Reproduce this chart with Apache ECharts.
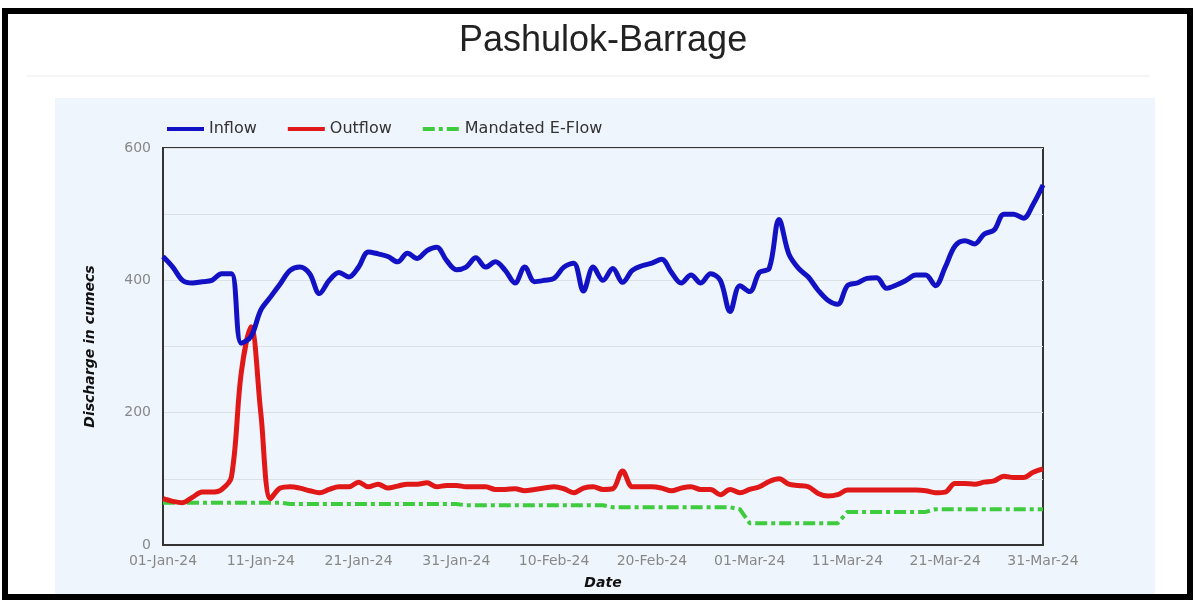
<!DOCTYPE html>
<html><head><meta charset="utf-8">
<script src="https://cdn.jsdelivr.net/npm/echarts@6/dist/echarts.min.js"></script>
<style>html,body{margin:0;padding:0;background:#fff}#c{width:1195px;height:601px}</style>
</head><body><div id="c"></div>
<script>
const dates = [
'01-Jan-24','02-Jan-24','03-Jan-24','04-Jan-24','05-Jan-24','06-Jan-24','07-Jan-24','08-Jan-24','09-Jan-24','10-Jan-24',
'11-Jan-24','12-Jan-24','13-Jan-24','14-Jan-24','15-Jan-24','16-Jan-24','17-Jan-24','18-Jan-24','19-Jan-24','20-Jan-24',
'21-Jan-24','22-Jan-24','23-Jan-24','24-Jan-24','25-Jan-24','26-Jan-24','27-Jan-24','28-Jan-24','29-Jan-24','30-Jan-24',
'31-Jan-24','01-Feb-24','02-Feb-24','03-Feb-24','04-Feb-24','05-Feb-24','06-Feb-24','07-Feb-24','08-Feb-24','09-Feb-24',
'10-Feb-24','11-Feb-24','12-Feb-24','13-Feb-24','14-Feb-24','15-Feb-24','16-Feb-24','17-Feb-24','18-Feb-24','19-Feb-24',
'20-Feb-24','21-Feb-24','22-Feb-24','23-Feb-24','24-Feb-24','25-Feb-24','26-Feb-24','27-Feb-24','28-Feb-24','29-Feb-24',
'01-Mar-24','02-Mar-24','03-Mar-24','04-Mar-24','05-Mar-24','06-Mar-24','07-Mar-24','08-Mar-24','09-Mar-24','10-Mar-24',
'11-Mar-24','12-Mar-24','13-Mar-24','14-Mar-24','15-Mar-24','16-Mar-24','17-Mar-24','18-Mar-24','19-Mar-24','20-Mar-24',
'21-Mar-24','22-Mar-24','23-Mar-24','24-Mar-24','25-Mar-24','26-Mar-24','27-Mar-24','28-Mar-24','29-Mar-24','30-Mar-24',
'31-Mar-24'];

const inflow = [
436,420,400,396,398,400,410,410,305,315,
355,375,395,415,420,410,380,400,412,405,
420,443,440,436,428,441,433,445,450,430,
416,420,434,420,428,415,396,420,398,400,
403,420,426,384,420,400,418,397,415,422,
426,432,412,396,408,396,410,400,353,392,
383,412,418,492,440,418,405,385,370,364,
392,396,403,404,388,393,400,408,408,392,
420,452,460,455,470,476,500,500,494,515,544];

const outflow = [
70,66,64,72,80,80,84,103,260,330,
200,70,86,88,86,82,79,84,88,88,
95,88,92,86,89,92,92,94,88,90,
90,88,88,88,84,84,85,82,84,86,
88,85,79,86,88,84,85,112,88,88,
88,86,82,86,88,84,84,76,84,79,
84,88,96,100,92,90,88,78,74,76,
83,83,83,83,83,83,83,83,82,79,
80,93,93,92,95,97,104,102,102,110,115];

const eflow = [
64,64,64,64,64,64,64,64,64,64,
64,64,64,62,62,62,62,62,62,62,
62,62,62,62,62,62,62,62,62,62,
62,60,60,60,60,60,60,60,60,60,
60,60,60,60,60,60,57,57,57,57,
57,57,57,57,57,57,57,57,57,54,
33,33,33,33,33,33,33,33,33,33,
50,50,50,50,50,50,50,50,50,54,
54,54,54,54,54,54,54,54,54,54,54];

const seriesNames = ['Inflow','Outflow','Mandated E-Flow'];
const yLabelTicks = [0,200,400,600];

const chart = echarts.init(document.getElementById('c'), null, {renderer:'canvas'});
chart.setOption({
  animation:false,
  backgroundColor:'#ffffff',
  title:{
    text:'Pashulok-Barrage', left:454, top:18,
    textStyle:{fontFamily:'Liberation Sans', fontSize:36, fontWeight:'normal', color:'#222'}
  },
  graphic:[
    {type:'rect', z:-5, shape:{x:55,y:98,width:1100,height:496}, style:{fill:'#eef5fc'}, silent:true},
    {type:'line', z:-5, shape:{x1:27,y1:76,x2:1150,y2:76}, style:{stroke:'#ececec', lineWidth:1}, silent:true},
    {type:'rect', z:100, shape:{x:5,y:11,width:1185,height:586}, style:{fill:null, stroke:'#000', lineWidth:6}, silent:true}
  ],
  legend:{
    left:160, top:116, itemWidth:37, itemHeight:14, itemGap:29,
    itemStyle:{opacity:0},
    lineStyle:{width:4},
    textStyle:{fontFamily:'DejaVu Sans', fontSize:16, color:'#333'},
    data:seriesNames
  },
  grid:{left:163, right:152, top:148, bottom:56, show:true, borderColor:'#333', borderWidth:2, backgroundColor:'transparent'},
  xAxis:{
    type:'category', data:dates, boundaryGap:false,
    name:'Date', nameLocation:'middle', nameGap:31,
    nameTextStyle:{fontFamily:'DejaVu Sans', fontSize:14, fontWeight:'bold', fontStyle:'italic', color:'#111'},
    axisLine:{show:true, lineStyle:{color:'#333', width:2}},
    axisTick:{show:false},
    axisLabel:{interval:9, color:'#888', fontFamily:'DejaVu Sans', fontSize:14, margin:9},
    splitLine:{show:false}
  },
  yAxis:{
    type:'value', min:0, max:600, interval:100,
    name:'Discharge in cumecs', nameLocation:'middle', nameGap:66,
    nameTextStyle:{fontFamily:'DejaVu Sans', fontSize:14, fontWeight:'bold', fontStyle:'italic', color:'#111'},
    axisLine:{show:true, lineStyle:{color:'#333', width:2}},
    axisTick:{show:false},
    axisLabel:{color:'#888', fontFamily:'DejaVu Sans', fontSize:14, margin:12,
      formatter:function(v){return yLabelTicks.indexOf(v)>=0 ? String(v) : '';}},
    splitLine:{show:true, lineStyle:{color:'#dcdfe4', width:1}}
  },
  series:[
    {name:seriesNames[0], type:'line', data:inflow, smooth:0.35, showSymbol:false, symbol:'none', z:4,
     lineStyle:{color:'#1212c4', width:5}, itemStyle:{color:'#1212c4'}},
    {name:seriesNames[1], type:'line', data:outflow, smooth:0.35, showSymbol:false, symbol:'none', z:3,
     lineStyle:{color:'#e01818', width:5}, itemStyle:{color:'#e01818'}},
    {name:seriesNames[2], type:'line', data:eflow, smooth:false, showSymbol:false, symbol:'none', z:2,
     lineStyle:{color:'#3ecb3e', width:4, type:[12,4,4,4]}, itemStyle:{color:'#3ecb3e'}}
  ]
});
</script></body></html>
